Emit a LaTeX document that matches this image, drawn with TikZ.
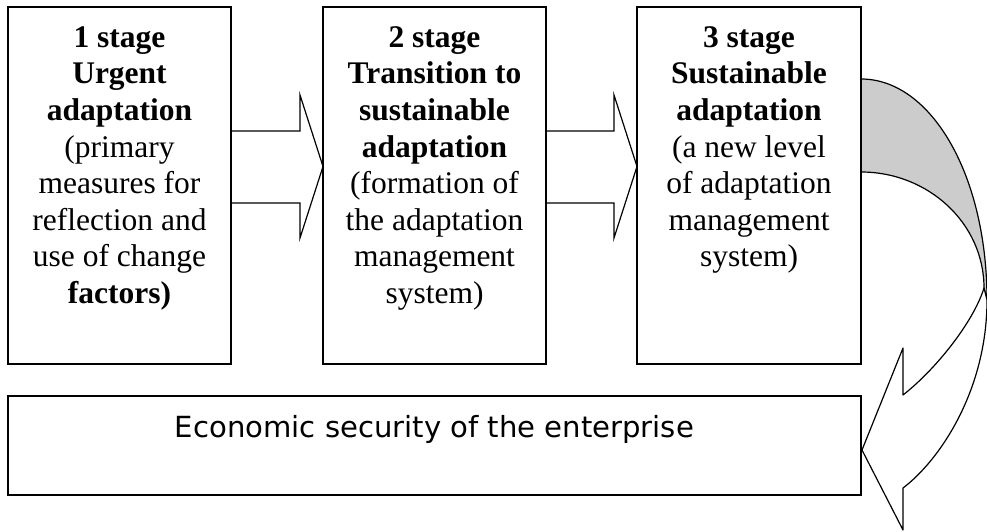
\documentclass[tikz,border=0pt]{standalone}
\usepackage{fontspec}
\setmainfont{Liberation Serif}
\newfontfamily\verdfont{DejaVu Sans}
\usetikzlibrary{calc}
\pgfdeclarelayer{bg}
\pgfsetlayers{bg,main}
\begin{document}
\begin{tikzpicture}[x=1pt,y=-1pt,
  stagebox/.style={draw, line width=1.6pt, inner sep=0pt, outer sep=0pt},
  blockarrow/.style={draw, line width=1.2pt, line join=miter},
  curvearrow/.style={draw, line width=1.2pt, line join=round},
  stagetext/.style={}]
\useasboundingbox (0,0) rectangle (987,532);

\node[stagebox] (b1) at (119.5,185.5) {\parbox[c][357pt][t]{223pt}{\centering\fontsize{31.5}{36.6}\selectfont
  \rule{0pt}{40.3pt}\textbf{1 stage}\\ \textbf{Urgent}\\ \textbf{adaptation}\\ (primary\\ measures for\\ reflection and\\ use of change\\ \textbf{factors)}}};

\node[stagebox] (b2) at (434.5,185.5) {\parbox[c][357pt][t]{223pt}{\centering\fontsize{31.5}{36.6}\selectfont
  \rule{0pt}{40.3pt}\textbf{2 stage}\\ \textbf{Transition to}\\ \textbf{sustainable}\\ \textbf{adaptation}\\ (formation of\\ the adaptation\\ management\\ system)}};

\node[stagebox] (b3) at (749,185.5) {\parbox[c][357pt][t]{224pt}{\centering\fontsize{31.5}{36.6}\selectfont
  \rule{0pt}{40.3pt}\textbf{3 stage}\\ \textbf{Sustainable}\\ \textbf{adaptation}\\ (a new level\\ of adaptation\\ management\\ system)}};

\node[stagebox] (b4) at (434.5,445.5) {\parbox[c][99pt][t]{853pt}{\centering\verdfont\fontsize{29.1}{35}\selectfont
  \rule{0pt}{41pt}Economic security of the enterprise}};

% block arrows between stages
\draw[blockarrow] ($(b1.north east)+(0,124)$) -- ($(b2.north west)+(-23,124)$) -- ($(b2.north west)+(-23,88)$)
  -- ($(b2.north west)+(0,159.5)$) -- ($(b2.north west)+(-23,231)$) -- ($(b2.north west)+(-23,196)$)
  -- ($(b1.north east)+(0,196)$);
\draw[blockarrow] ($(b2.north east)+(0,124)$) -- ($(b3.north west)+(-23,124)$) -- ($(b3.north west)+(-23,88)$)
  -- ($(b3.north west)+(0,159.5)$) -- ($(b3.north west)+(-23,231)$) -- ($(b3.north west)+(-23,196)$)
  -- ($(b2.north east)+(0,196)$);

% curved arrow from stage 3 to the enterprise box
\begin{pgfonlayer}{bg}
\coordinate (oS) at ($(b3.north east)+(0,72)$);
\coordinate (iS) at ($(b3.north east)+(0,165)$);
\coordinate (tip) at ($(b4.east)+(1,4.5)$);
\filldraw[curvearrow, fill=black!20] (oS) .. controls (931,79) and (987,175) .. (987,300) -- (984,288)
  .. controls (984,223) and (928,172) .. (iS) -- cycle;
\filldraw[curvearrow, fill=white] (984,288) .. controls (973,323) and (935,370) .. (903,395)
  -- (903,348) -- (tip) -- (903,530) -- (903,488) .. controls (940,460) and (987,390) .. (987,300) -- cycle;
\end{pgfonlayer}
\end{tikzpicture}
\end{document}
